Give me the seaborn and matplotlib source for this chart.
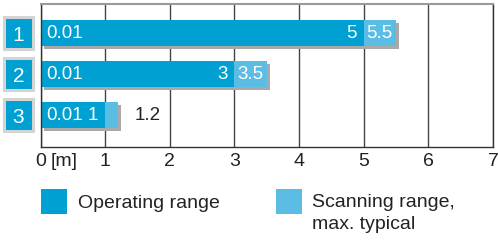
import matplotlib
matplotlib.use("Agg")
import matplotlib.pyplot as plt
import matplotlib.patheffects as pe
from matplotlib.patches import Rectangle
import matplotlib.transforms as mtransforms
import seaborn as sns
import pandas as pd

# ---- data ----
sensors = ["1", "2", "3"]
min_range = [0.01, 0.01, 0.01]
operating = [5, 3, 1]
scanning = [5.5, 3.5, 1.2]
x_ticks = [0, 1, 2, 3, 4, 5, 6, 7]
x_tick_labels = ["0", "1", "2", "3", "4", "5", "6", "7"]
legend_labels = ["Operating range", "Scanning range,\nmax. typical"]

dark = "#00A0D2"
light = "#5BBDE4"
shadow = "#A9A9A9"

sns.set_style("white")
plt.rcParams["font.family"] = ["Liberation Sans", "DejaVu Sans"]

df = pd.DataFrame({"sensor": sensors, "operating": operating, "scanning": scanning})

W, H = 498, 247
fig = plt.figure(figsize=(W / 100, H / 100), dpi=100)
ax = fig.add_axes([40.5 / W, 1 - 147 / H, (493 - 40.5) / W, 143 / H])

sns.barplot(data=df, y="sensor", x="scanning", order=sensors, orient="h",
            color=light, saturation=1, width=0.63, ax=ax)
n_light = len(ax.patches)
sns.barplot(data=df, y="sensor", x="operating", order=sensors, orient="h",
            color=dark, saturation=1, width=0.63, ax=ax)
for p in ax.patches[:n_light]:
    p.set_path_effects([pe.SimplePatchShadow(offset=(2.2, -2.2), shadow_rgbFace=shadow, alpha=1),
                        pe.Normal()])
for p in ax.patches:
    p.set_linewidth(0)

ax.set_xlim(0, 7)
ax.set_ylim(2.78, -0.71)
ax.set_xticks(x_ticks)
ax.set_xticklabels(x_tick_labels, fontsize=14, color="#222222")
ax.tick_params(axis="x", length=0, pad=4)
ax.get_xticklabels()[0].set_x(-0.04)
ax.set_xlabel("")
ax.set_ylabel("")
ax.grid(axis="x", color="#444444", lw=1.0)
ax.grid(axis="y", visible=False)
ax.set_axisbelow(True)
for s in ["left", "right", "bottom"]:
    ax.spines[s].set_color("#333333")
    ax.spines[s].set_linewidth(1.0)
ax.spines["top"].set_color("#9a9a9a")
ax.spines["top"].set_linewidth(1.5)

ax.annotate("[m]", xy=(0, 0), xycoords=("data", "axes fraction"), xytext=(7, -4),
            textcoords="offset points", ha="left", va="top", fontsize=14, color="#222222")

# sensor label boxes
trans = mtransforms.blended_transform_factory(ax.transAxes, ax.transData)
bx0 = (4 - 40.5) / 452.5
bw = 29 / 452.5
for i, s in enumerate(sensors):
    r = Rectangle((bx0, i - 0.39), bw, 0.78, transform=trans, clip_on=False,
                  facecolor=dark, edgecolor="#d4d4d4", lw=2.2, zorder=0.2)
    r.set_path_effects([pe.SimplePatchShadow(offset=(1.4, -1.4), shadow_rgbFace="#6e6e6e", alpha=1),
                        pe.Normal()])
    ax.add_patch(r)
ax.set_yticks(range(len(sensors)))
ax.set_yticklabels(sensors, fontsize=15, color="white")
ax.tick_params(axis="y", length=0, pad=16)
for lbl in ax.get_yticklabels():
    lbl.set_ha("center")

# value labels
for i in range(len(sensors)):
    ax.annotate(f"{min_range[i]:g}", xy=(0, i), xytext=(4, 0), textcoords="offset points",
                ha="left", va="center", color="white", fontsize=13.5)
    ax.annotate(f"{operating[i]:g}", xy=(operating[i], i), xytext=(-5, 0), textcoords="offset points",
                ha="right", va="center", color="white", fontsize=13.5)
    if scanning[i] - operating[i] >= 0.4:
        ax.annotate(f"{scanning[i]:g}", xy=(operating[i], i), xytext=(2, 0), textcoords="offset points",
                    ha="left", va="center", color="white", fontsize=13.5)
    else:
        ax.annotate(f"{scanning[i]:g}", xy=(scanning[i], i), xytext=(12, 0), textcoords="offset points",
                    ha="left", va="center", color="#222222", fontsize=13.5)

# legend
fig.patches.append(Rectangle((40.5 / W, 1 - 214 / H), 26 / W, 25 / H, transform=fig.transFigure,
                             facecolor=dark, edgecolor="none"))
fig.patches.append(Rectangle((275.5 / W, 1 - 214 / H), 26 / W, 25 / H, transform=fig.transFigure,
                             facecolor=light, edgecolor="none"))
fig.text(78 / W, 1 - 203 / H, legend_labels[0], ha="left", va="center", fontsize=14, color="#222222")
fig.text(312 / W, 1 - 194 / H, legend_labels[1], ha="left", va="top", fontsize=14, color="#222222",
         linespacing=1.4)

fig.savefig("out.png", dpi=100)
